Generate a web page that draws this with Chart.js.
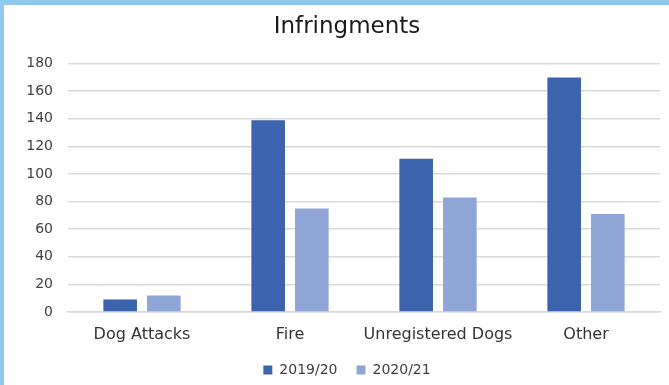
<!DOCTYPE html>
<html>
<head>
<meta charset="utf-8">
<script src="https://cdn.jsdelivr.net/npm/chart.js@4"></script>
<style>
  html, body { margin: 0; padding: 0; background: #fff; overflow: hidden; }
  body {
    width: 665px; height: 380px;
    border-top: 5px solid #8fc8ec;
    border-left: 4px solid #8fc8ec;
  }
  #wrap { position: relative; width: 686px; height: 380px; }
</style>
</head>
<body>
<div id="wrap"><canvas id="chart"></canvas></div>
<script>
const categories = ['Dog Attacks', 'Fire', 'Unregistered Dogs', 'Other'];
const seriesNames = ['2019/20', '2020/21'];
const values2019 = [9, 139, 111, 170];
const values2020 = [12, 75, 83, 71];

const fontFamily = '"DejaVu Sans", sans-serif';

new Chart(document.getElementById('chart'), {
    type: 'bar',
    data: {
        labels: categories,
        datasets: [
            { label: seriesNames[0], data: values2019, backgroundColor: '#3c64ad' },
            { label: seriesNames[1], data: values2020, backgroundColor: '#8fa5d5' }
        ]
    },
    options: {
        responsive: true,
        maintainAspectRatio: false,
        animation: false,
        categoryPercentage: 0.59,
        barPercentage: 0.77,
        layout: { padding: { left: 0, right: 0, top: 0, bottom: -2 } },
        plugins: {
            title: {
                display: true,
                text: 'Infringments',
                color: '#1a1a1a',
                font: { family: fontFamily, size: 23, weight: 'normal' },
                padding: { top: 8, bottom: 23 }
            },
            legend: {
                position: 'bottom',
                labels: {
                    color: '#404040',
                    boxWidth: 9,
                    boxHeight: 9,
                    font: { family: fontFamily, size: 14 },
                    padding: 19
                }
            },
            tooltip: { enabled: false }
        },
        scales: {
            x: {
                grid: { display: false },
                border: { color: '#d9d9d9', width: 1.5 },
                ticks: {
                    color: '#333', font: { family: fontFamily, size: 16 }, padding: 5,
                    maxRotation: 0, minRotation: 0, autoSkip: false
                },
                afterFit: (scale) => { scale.height = 32; }
            },
            y: {
                min: 0,
                max: 180,
                ticks: { stepSize: 20, color: '#404040', font: { family: fontFamily, size: 14 }, padding: 15 },
                grid: { color: '#d9d9d9', lineWidth: 1.5, drawTicks: false },
                border: { display: false },
                afterFit: (scale) => { scale.width = 64; }
            },
            // empty spacer on the right, the canvas runs past the page edge
            spacer: {
                position: 'right',
                display: true,
                grid: { display: false },
                ticks: { display: false },
                border: { display: false },
                afterFit: (scale) => { scale.width = 30; }
            }
        }
    }
});
</script>
</body>
</html>
